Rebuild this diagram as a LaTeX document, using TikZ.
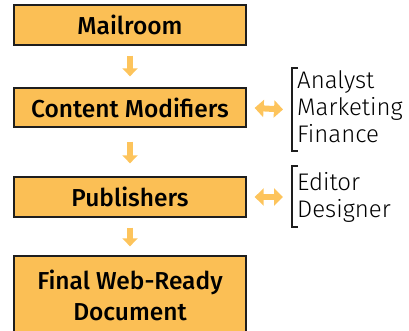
\documentclass[tikz,border=0pt]{standalone}
\usepackage{fontspec}
\setmainfont{Fira Sans}
\newfontfamily\boxfont{Fira Sans Medium}
\newfontfamily\lightfont{Fira Sans Light}
\usetikzlibrary{arrows.meta}
\definecolor{boxfill}{RGB}{251,191,85}
\definecolor{arrowcol}{RGB}{253,196,92}
\definecolor{edgecol}{RGB}{30,30,30}
\begin{document}
\begin{tikzpicture}[x=1pt,y=1pt,
  stagebox/.style={draw=edgecol,line width=1.3pt,fill=boxfill,minimum width=232pt,
    align=center,inner sep=0pt,font=\boxfont\fontsize{24.5}{31}\selectfont},
  downarrow/.style={arrowcol,line width=6pt,-{Triangle[width=15pt,length=8pt]}},
  bothways/.style={arrowcol,line width=6pt,{Triangle[width=17pt,length=9pt]}-{Triangle[width=17pt,length=9pt]}},
  bracketline/.style={edgecol,line width=1.6pt},
  sidetext/.style={anchor=base west,inner sep=0pt,font=\lightfont\fontsize{24}{27}\selectfont}]
\useasboundingbox (0,0) rectangle (409,330);
\node[stagebox,minimum height=40pt] (mail) at (130,305) {Mailroom};
\node[stagebox,minimum height=39pt] (cont) at (130,222.5) {Content Modifiers};
\node[stagebox,minimum height=40pt] (pub) at (130,133) {Publishers};
\node[stagebox,minimum height=78pt] (fin) at (130,35) {Final Web-Ready\\Document};
\draw[downarrow,shorten <=10pt,shorten >=11pt] (mail) -- (cont);
\draw[downarrow,shorten <=14pt,shorten >=13pt] (cont) -- (pub);
\draw[downarrow,shorten <=10pt,shorten >=9pt] (pub) -- (fin);
% side groups
\coordinate (b1t) at (292,262);
\coordinate (b1b) at (292,179);
\coordinate (b2t) at (292,164);
\coordinate (b2b) at (292,103);
\draw[bracketline] ([xshift=6pt]b1t) -- (b1t) -- (b1b) -- ([xshift=6pt]b1b);
\draw[bracketline] ([xshift=6pt]b2t) -- (b2t) -- (b2b) -- ([xshift=6pt]b2b);
\node[sidetext] (an) at (297,241) {Analyst};
\node[sidetext] (mk) at (297,215) {Marketing};
\node[sidetext] (fi) at (297,188) {Finance};
\node[sidetext] (ed) at (297,140) {Editor};
\node[sidetext] (de) at (297,113) {Designer};
\coordinate (g1) at (292,220);
\coordinate (g2) at (292,133);
\draw[bothways,shorten <=8pt,shorten >=9pt] (cont.east) -- (g1);
\draw[bothways,shorten <=8pt,shorten >=9pt] (pub.east) -- (g2);
\end{tikzpicture}
\end{document}
